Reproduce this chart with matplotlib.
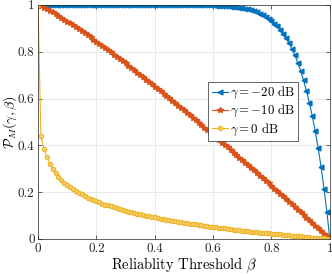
import numpy as np
import matplotlib
matplotlib.use("Agg")
import matplotlib.pyplot as plt

plt.rcParams['font.family'] = 'serif'
plt.rcParams['font.serif'] = ['cmr10']
plt.rcParams['mathtext.fontset'] = 'cm'
plt.rcParams['axes.unicode_minus'] = False
plt.rcParams['axes.formatter.use_mathtext'] = True

# reliability threshold beta, step 0.01
beta = np.arange(101) / 100

# gamma = -20 dB
p_m20 = [1.000] * 53 + [
    0.999, 0.999, 0.999, 0.999, 0.999, 0.999, 0.998, 0.998,  # 0.53 - 0.60
    0.997, 0.997, 0.996, 0.995, 0.994, 0.993, 0.992, 0.990, 0.988, 0.986,  # 0.61 - 0.70
    0.984, 0.981, 0.977, 0.973, 0.968, 0.963, 0.957, 0.949, 0.941, 0.931,  # 0.71 - 0.80
    0.920, 0.908, 0.893, 0.877, 0.858, 0.837, 0.812, 0.785, 0.753, 0.718,  # 0.81 - 0.90
    0.678, 0.632, 0.582, 0.524, 0.460, 0.388, 0.307, 0.215, 0.114, 0.000,  # 0.91 - 1.00
]

# gamma = -10 dB
p_m10 = [
    1.000,
    0.995, 0.989, 0.982, 0.975, 0.968, 0.961, 0.953, 0.945, 0.937, 0.929,
    0.921, 0.913, 0.904, 0.896, 0.887, 0.879, 0.870, 0.861, 0.852, 0.843,
    0.834, 0.825, 0.815, 0.806, 0.797, 0.788, 0.778, 0.769, 0.759, 0.750,
    0.740, 0.730, 0.721, 0.711, 0.701, 0.691, 0.681, 0.671, 0.661, 0.651,
    0.641, 0.631, 0.621, 0.611, 0.601, 0.591, 0.580, 0.570, 0.560, 0.549,
    0.539, 0.529, 0.518, 0.508, 0.497, 0.487, 0.476, 0.466, 0.455, 0.444,
    0.434, 0.423, 0.412, 0.401, 0.391, 0.380, 0.369, 0.358, 0.347, 0.337,
    0.326, 0.315, 0.304, 0.293, 0.282, 0.271, 0.260, 0.249, 0.238, 0.226,
    0.215, 0.204, 0.193, 0.182, 0.171, 0.159, 0.148, 0.137, 0.125, 0.114,
    0.103, 0.091, 0.080, 0.069, 0.057, 0.046, 0.034, 0.023, 0.012, 0.000,
]

# gamma = 0 dB
p_0 = [
    1.000,
    0.440, 0.385, 0.351, 0.322, 0.300, 0.281, 0.266, 0.253, 0.241, 0.230,
    0.221, 0.212, 0.204, 0.197, 0.190, 0.183, 0.177, 0.171, 0.166, 0.161,
    0.156, 0.151, 0.147, 0.143, 0.139, 0.135, 0.131, 0.127, 0.124, 0.120,
    0.117, 0.114, 0.111, 0.108, 0.105, 0.102, 0.099, 0.097, 0.094, 0.092,
    0.089, 0.087, 0.084, 0.082, 0.080, 0.078, 0.076, 0.073, 0.071, 0.069,
    0.067, 0.065, 0.063, 0.062, 0.060, 0.058, 0.056, 0.054, 0.053, 0.051,
    0.049, 0.048, 0.046, 0.045, 0.043, 0.042, 0.040, 0.039, 0.037, 0.036,
    0.034, 0.033, 0.031, 0.030, 0.029, 0.027, 0.026, 0.025, 0.024, 0.022,
    0.021, 0.020, 0.019, 0.017, 0.016, 0.015, 0.014, 0.013, 0.012, 0.011,
    0.009, 0.008, 0.007, 0.006, 0.005, 0.004, 0.003, 0.002, 0.001, 0.000,
]

ticks = [0, 0.2, 0.4, 0.6, 0.8, 1]
tick_labels = ['0', '0.2', '0.4', '0.6', '0.8', '1']

fig = plt.figure(figsize=(3.32, 2.74), dpi=100)
ax = fig.add_axes([0.1145, 0.128, 0.879, 0.854])

ax.plot(beta, p_m20, color='#0072BD', marker='<', ms=3.5, lw=0.8,
        label=r'$\gamma = -20$ dB')
ax.plot(beta, p_m10, color='#D95319', marker='*', ms=4, lw=0.8,
        label=r'$\gamma = -10$ dB')
ax.plot(beta, p_0, color='#EDB120', marker='o', ms=3.2, lw=0.8,
        mfc='#f5cf6a', mew=0.7, label=r'$\gamma = 0$ dB')

ax.set_xlim(0, 1)
ax.set_ylim(0, 1)
ax.set_xticks(ticks)
ax.set_xticklabels(tick_labels)
ax.set_yticks(ticks)
ax.set_yticklabels(tick_labels)
ax.tick_params(direction='in', length=3, width=0.5, labelsize=9.5,
               colors='#262626', top=True, right=True, pad=2.5)
ax.grid(True, color='#e6e6e6', lw=0.6)
ax.set_axisbelow(True)
for s in ax.spines.values():
    s.set_color('#262626')
    s.set_linewidth(0.5)

ax.set_xlabel(r'Reliablity Threshold $\beta$', fontsize=10.5, labelpad=1)
ax.set_ylabel(r'$\mathcal{P}_M(\gamma,\beta)$', fontsize=10, labelpad=-1)

leg = ax.legend(loc='upper left', bbox_to_anchor=(0.584, 0.671), fontsize=9.2,
                fancybox=False, edgecolor='#262626', framealpha=1,
                handlelength=1.3, handletextpad=0.1, borderpad=0.25,
                labelspacing=0.15, borderaxespad=0, handleheight=0.6)
leg.get_frame().set_linewidth(0.5)

fig.savefig('out.png', dpi=100)
